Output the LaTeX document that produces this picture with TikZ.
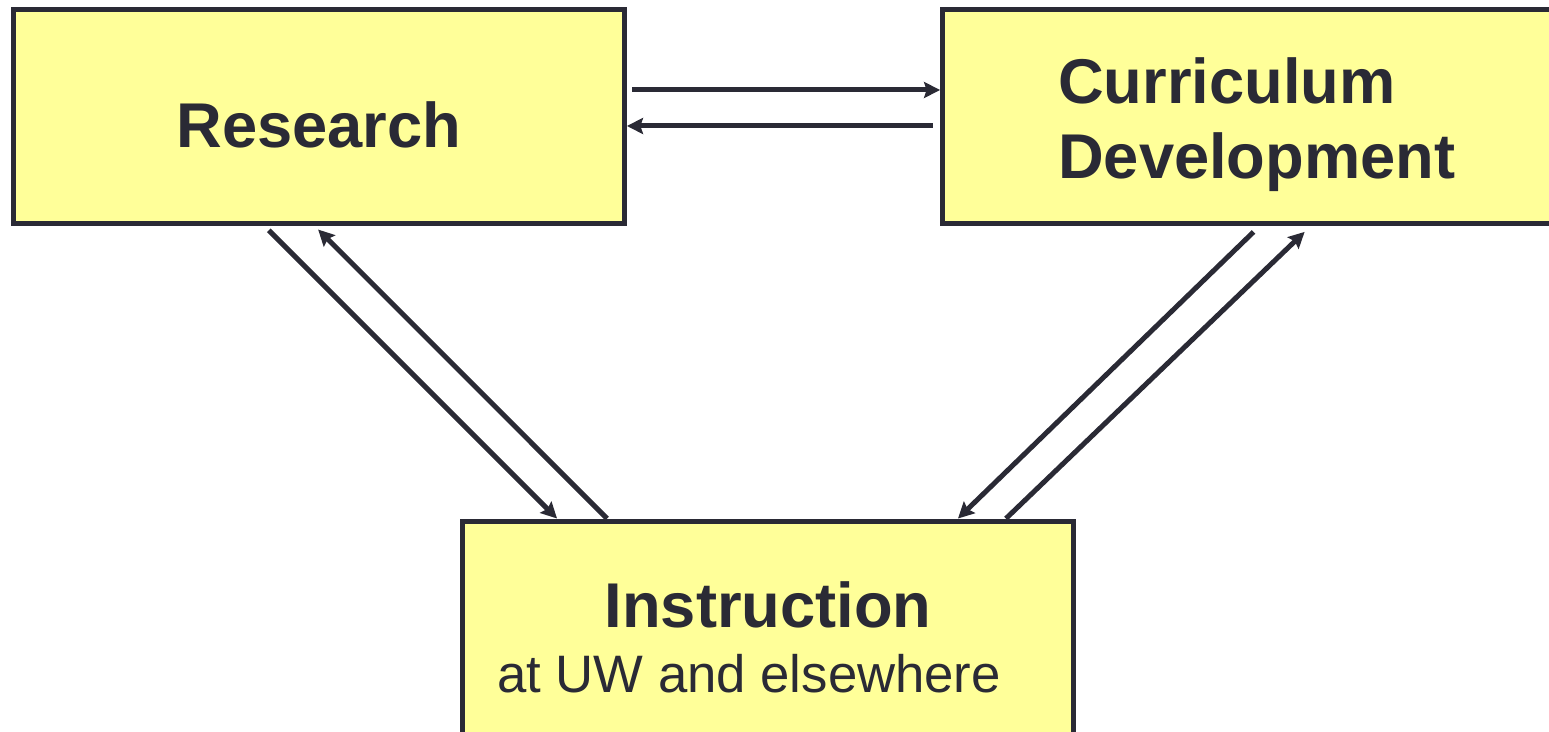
\documentclass[tikz,border=0pt]{standalone}
\usepackage{fontspec}
\setmainfont{Liberation Sans}
\usepackage{xcolor}
\usetikzlibrary{arrows.meta}
\definecolor{boxfill}{RGB}{255,255,153}
\definecolor{ink}{RGB}{42,42,53}

\begin{document}
\begin{tikzpicture}[x=0.02cm,y=-0.02cm,
box/.style={draw=ink,fill=boxfill,line width=0.1cm,rectangle,
    minimum width=12.23cm,minimum height=4.29cm,text=ink,inner sep=0pt},
flow/.style={draw=ink,line width=0.1cm,
    -{Stealth[length=0.32cm,width=0.32cm,inset=0.05cm]}}]
\useasboundingbox (0,0) rectangle (1549,732);
\clip (0,0) rectangle (1549,732);
\node (research) [box,font=\fontsize{36}{43}\selectfont\bfseries,
    text height=1.23cm,text depth=0pt] at (318.75,116.3) {Research};
\node (curric) [box] at (1248.25,116.3) {};
\node (curtext) [align=left,text=ink,inner sep=0pt,
    font=\fontsize{36}{43}\selectfont\bfseries]
    at ([xshift=0.17cm,yshift=-0.17cm]curric.center) {Curriculum\\ Development};
\node (instr) [box,minimum height=4.64cm,align=center,
    font=\fontsize{36}{37}\selectfont\bfseries] at (768,637)
    {Instruction\\
     {\fontsize{30}{37}\selectfont\mdseries at UW and elsewhere\hspace*{0.76cm}}};
% research <-> curriculum
\draw [flow,shorten <=0.11cm] ([yshift=0.526cm]research.east) -- ([yshift=0.526cm]curric.west);
\draw [flow,shorten <=0.15cm] ([yshift=-0.194cm]curric.west) -- ([yshift=-0.194cm]research.east);
% research <-> instruction
\draw [flow,shorten <=0.12cm] ([xshift=-1.085cm]research.south) -- ([xshift=-4.22cm]instr.north);
\draw [flow,shorten >=0.1cm] ([xshift=-3.22cm]instr.north) -- ([xshift=-0.083cm]research.south);
% curriculum <-> instruction
\draw [flow,shorten <=0.17cm] ([xshift=0.228cm]curric.south) -- ([xshift=3.8cm]instr.north);
\draw [flow,shorten >=0.17cm] ([xshift=4.76cm]instr.north) -- ([xshift=1.25cm]curric.south);
\end{tikzpicture}
\end{document}
